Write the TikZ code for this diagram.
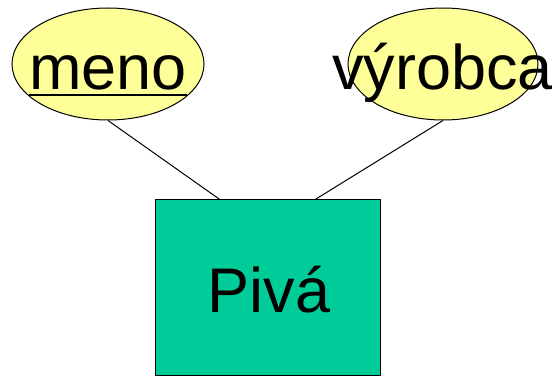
\documentclass[tikz,border=0pt]{standalone}
\usepackage{fontspec}
\setmainfont{Liberation Sans}
\usetikzlibrary{shapes.geometric,calc}
\definecolor{attrfill}{HTML}{FFFF99}
\definecolor{entfill}{HTML}{00CC99}
\tikzset{
  attr/.style={ellipse,draw=black,line width=1pt,fill=attrfill,minimum width=192pt,minimum height=112pt,inner sep=0pt},
  ent/.style={rectangle,draw=black,line width=1pt,fill=entfill,minimum width=225pt,minimum height=175pt,inner sep=0pt},
  lbl/.style={anchor=base,inner sep=0pt,font=\fontsize{63}{70}\selectfont},
  link/.style={draw=black,line width=1pt}
}
\newcommand{\ulword}[1]{{\setbox0\hbox{#1}\rlap{\rule[-6.5pt]{\wd0}{2.5pt}}#1}}
\begin{document}
\begin{tikzpicture}[x=1pt,y=-1pt]
\useasboundingbox (0,0) rectangle (560,377);
\node[attr] (e1) at (108,64) {};
\node[attr,minimum width=190pt] (e2) at (443,64) {};
\node[ent] (p) at (267.5,287.5) {};
\node[lbl] (t1) at (108,90) {\ulword{meno}};
\node[lbl] (t2) at (442.5,90) {výrobca};
\node[lbl] (t3) at (269,312) {Pivá};
\draw[link] (e1.south) -- ($(p.north west)!0.289!(p.north east)$);
\draw[link] (e2.south) -- ($(p.north west)!0.711!(p.north east)$);
\end{tikzpicture}
\end{document}
